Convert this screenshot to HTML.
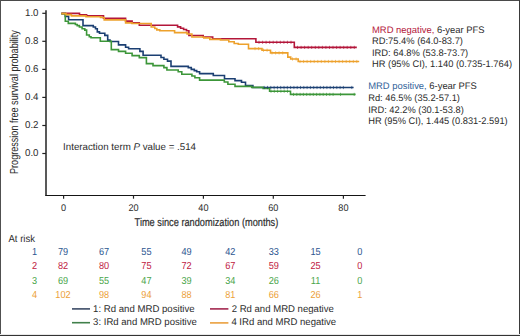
<!DOCTYPE html>
<html><head><meta charset="utf-8"><style>
html,body{margin:0;padding:0;background:#fff;}
body{width:520px;height:336px;overflow:hidden;position:relative;}
svg{position:absolute;left:0;top:0;font-family:"Liberation Sans",sans-serif;font-size:9.5px;}
text{stroke-width:0;text-rendering:geometricPrecision;}
</style></head><body>
<svg width="520" height="336" viewBox="0 0 520 336" fill="#2b2b2b">
<rect x="0" y="0" width="520" height="1" fill="#4a4a4a"/><rect x="0" y="0" width="1" height="336" fill="#505050"/><rect x="0" y="335" width="520" height="1" fill="#333"/><rect x="519" y="0" width="1" height="336" fill="#3a3a3a"/><rect x="0" y="334" width="520" height="1" fill="#e8e8e8"/>
<path d="M46,10.2V195.7" stroke="#222" stroke-width="1.5" fill="none"/><path d="M45.3,195.45H365.6" stroke="#151515" stroke-width="1.15" fill="none"/><path d="M42.3,13.3H46" stroke="#222" stroke-width="1.2"/><text x="25.02" y="16.2" font-size="10.0" textLength="13.48" lengthAdjust="spacingAndGlyphs" stroke="#2b2b2b">1.0</text><path d="M42.3,41.3H46" stroke="#222" stroke-width="1.2"/><text x="25.02" y="44.2" font-size="10.0" textLength="13.48" lengthAdjust="spacingAndGlyphs" stroke="#2b2b2b">0.8</text><path d="M42.3,69.4H46" stroke="#222" stroke-width="1.2"/><text x="25.02" y="72.3" font-size="10.0" textLength="13.48" lengthAdjust="spacingAndGlyphs" stroke="#2b2b2b">0.6</text><path d="M42.3,97.4H46" stroke="#222" stroke-width="1.2"/><text x="25.02" y="100.3" font-size="10.0" textLength="13.48" lengthAdjust="spacingAndGlyphs" stroke="#2b2b2b">0.4</text><path d="M42.3,125.5H46" stroke="#222" stroke-width="1.2"/><text x="25.02" y="128.4" font-size="10.0" textLength="13.48" lengthAdjust="spacingAndGlyphs" stroke="#2b2b2b">0.2</text><path d="M42.3,153.5H46" stroke="#222" stroke-width="1.2"/><text x="25.02" y="156.4" font-size="10.0" textLength="13.48" lengthAdjust="spacingAndGlyphs" stroke="#2b2b2b">0.0</text><path d="M63.6,195.5V198.7" stroke="#222" stroke-width="1.2"/><text x="61.07" y="210.9" font-size="9.7" textLength="5.07" lengthAdjust="spacingAndGlyphs" stroke="#2b2b2b">0</text><path d="M133.5,195.5V198.7" stroke="#222" stroke-width="1.2"/><text x="128.43" y="210.9" font-size="9.7" textLength="10.14" lengthAdjust="spacingAndGlyphs" stroke="#2b2b2b">20</text><path d="M203.4,195.5V198.7" stroke="#222" stroke-width="1.2"/><text x="198.33" y="210.9" font-size="9.7" textLength="10.14" lengthAdjust="spacingAndGlyphs" stroke="#2b2b2b">40</text><path d="M273.3,195.5V198.7" stroke="#222" stroke-width="1.2"/><text x="268.23" y="210.9" font-size="9.7" textLength="10.14" lengthAdjust="spacingAndGlyphs" stroke="#2b2b2b">60</text><path d="M343.4,195.5V198.7" stroke="#222" stroke-width="1.2"/><text x="338.33" y="210.9" font-size="9.7" textLength="10.14" lengthAdjust="spacingAndGlyphs" stroke="#2b2b2b">80</text>
<g transform="translate(18.2,174) rotate(-90)"><text x="0.00" y="0" font-size="11.6" textLength="143.80" lengthAdjust="spacingAndGlyphs" stroke="#2b2b2b">Progression free survival probability</text></g>
<text x="134.60" y="226.4" font-size="11.4" textLength="143.70" lengthAdjust="spacingAndGlyphs" stroke="#2b2b2b" style="stroke-width:0.2px">Time since randomization (months)</text>
<text x="63.10" y="149.5" font-size="9.9" textLength="132.90" lengthAdjust="spacingAndGlyphs" stroke="#2b2b2b">Interaction term <tspan font-style="italic">P</tspan> value = .514</text>
<g fill="none" stroke-width="1.6" stroke-linejoin="miter">
<path d="M61.3,13.6 H65.3 V16.4 H68.6 V19.8 H83 V25.6 H93.3 V27 H95.5 V28.8 H97.3 V31.9 H99.5 V33.3 H104.8 V35.4 H107.7 V40.1 H110 V41.5 H118.5 V44.9 H125.6 V47.3 H128.6 V48.7 H139.9 V51.4 H143.1 V55.3 H161 V57.5 H163.9 V59.3 H167.5 V61.1 H171 V66.4 H188.3 V67.6 H191.3 V69.4 H194.3 V70.6 H196.7 V71.8 H199.6 V73.6 H213.3 V75.5 H224.5 V78.8 H235 V80.6 H241.5 V82.3 H245.5 V85.6 H252.9 V87.5 H353.6" stroke="#1b3f72"/>
<path d="M61.3,13.4 H79.5 V14.7 H86.6 V15.7 H103.5 V18.3 H125.6 V21.1 H132.1 V22.9 H139.3 V25.2 H177.6 V26.9 H180.6 V28.3 H183.6 V29.5 H186.5 V30.7 H188.9 V35.5 H203.2 V37 H212.7 V38.8 H255.9 V42.3 H294.3 V47.4 H356.8" stroke="#b3163a"/>
<path d="M61.3,13.6 H65.3 V21.2 H68.3 V23.4 H75.4 V24.5 H77.2 V25.6 H79.4 V27 H82.1 V28.8 H84.8 V30.1 H86.6 V35 H89.3 V36.8 H91 V37.7 H100.3 V41.3 H111.3 V49.6 H118.5 V51.4 H125.6 V53.2 H132.1 V55.6 H139.3 V57.6 H146.4 V63.6 H153 V65.6 H163.9 V67.6 H166.9 V70 H178.2 V71.8 H181.8 V74.2 H191.9 V76 H194.9 V77.7 H199.6 V80.1 H224.3 V82 H227.9 V84.2 H235 V86.4 H251.7 V87.4 H263.1 V88.5 H269.6 V91.2 H290.5 V94.4 H355.6" stroke="#3c9639"/>
<path d="M61.3,13.6 H66 V14.6 H71.4 V15.9 H86 V16.8 H100.5 V17.5 H104.2 V19.9 H125.6 V22.9 H132 V23.5 H151.2 V27 H154.8 V28.5 H156.8 V29.9 H159.8 V30.8 H174.6 V32.6 H187.1 V34 H191.9 V37 H203.8 V37.9 H209.8 V39.4 H220.5 V40 H228.8 V41.7 H234.2 V43.5 H238.3 V44.3 H248.5 V48.6 H262 V50.2 H270.5 V52.9 H287.8 V57.1 H290.7 V59 H298.2 V61.5 H359.2" stroke="#eda12c"/>
</g>
<path d="M259.0,40.7v3.2 M262.6,40.7v3.2 M266.1,40.7v3.2 M269.7,40.7v3.2 M273.2,40.7v3.2 M276.8,40.7v3.2 M280.3,40.7v3.2 M283.9,40.7v3.2 M287.4,40.7v3.2 M291.0,40.7v3.2 M297.5,45.8v3.2 M301.1,45.8v3.2 M304.6,45.8v3.2 M308.2,45.8v3.2 M311.7,45.8v3.2 M315.3,45.8v3.2 M318.8,45.8v3.2 M322.4,45.8v3.2 M325.9,45.8v3.2 M329.5,45.8v3.2 M333.0,45.8v3.2 M336.6,45.8v3.2 M340.1,45.8v3.2 M343.7,45.8v3.2 M347.2,45.8v3.2 M350.8,45.8v3.2 M354.3,45.8v3.2" stroke="#b3163a" stroke-width="0.65" fill="none"/><path d="M255.0,47.0v3.2 M258.6,47.0v3.2 M263.5,48.6v3.2 M267.1,48.6v3.2 M272.0,51.3v3.2 M275.6,51.3v3.2 M279.1,51.3v3.2 M282.7,51.3v3.2 M292.5,57.4v3.2 M296.1,57.4v3.2 M300.0,59.9v3.2 M303.6,59.9v3.2 M307.1,59.9v3.2 M310.7,59.9v3.2 M314.2,59.9v3.2 M317.8,59.9v3.2 M321.3,59.9v3.2 M324.9,59.9v3.2 M328.4,59.9v3.2 M332.0,59.9v3.2 M335.5,59.9v3.2 M339.1,59.9v3.2 M342.6,59.9v3.2 M346.2,59.9v3.2 M349.7,59.9v3.2 M353.3,59.9v3.2 M356.8,59.9v3.2" stroke="#eda12c" stroke-width="0.65" fill="none"/><path d="M264.2,85.9v3.2 M267.5,85.9v3.2 M270.8,85.9v3.2 M274.1,85.9v3.2 M277.4,85.9v3.2 M280.7,85.9v3.2 M284.0,85.9v3.2 M287.3,85.9v3.2 M290.6,85.9v3.2 M293.9,85.9v3.2 M297.2,85.9v3.2 M300.5,85.9v3.2 M303.8,85.9v3.2 M307.1,85.9v3.2 M310.4,85.9v3.2 M313.7,85.9v3.2 M317.0,85.9v3.2 M320.3,85.9v3.2 M323.6,85.9v3.2 M326.9,85.9v3.2 M330.2,85.9v3.2 M333.5,85.9v3.2 M336.8,85.9v3.2 M340.1,85.9v3.2 M343.4,85.9v3.2 M351.8,85.9v3.2" stroke="#1b3f72" stroke-width="0.65" fill="none"/><path d="M271.0,89.6v3.2 M274.3,89.6v3.2 M277.6,89.6v3.2 M280.9,89.6v3.2 M284.2,89.6v3.2 M287.5,89.6v3.2 M293.5,92.8v3.2 M296.8,92.8v3.2 M300.1,92.8v3.2 M303.4,92.8v3.2 M306.7,92.8v3.2 M310.0,92.8v3.2 M313.3,92.8v3.2 M316.6,92.8v3.2 M319.9,92.8v3.2 M323.2,92.8v3.2 M326.5,92.8v3.2 M329.8,92.8v3.2 M333.1,92.8v3.2 M340.5,92.8v3.2 M354.2,92.8v3.2" stroke="#3c9639" stroke-width="0.65" fill="none"/>
<text x="372.00" y="32.6" font-size="9.5" textLength="112.60" lengthAdjust="spacingAndGlyphs" stroke="#2b2b2b"><tspan fill="#b3163a" stroke="#b3163a">MRD negative,</tspan> 6-year PFS</text><text x="372.00" y="44.3" font-size="9.5" textLength="91.00" lengthAdjust="spacingAndGlyphs" stroke="#2b2b2b">RD:75.4% (64.0-83.7)</text><text x="372.00" y="55.7" font-size="9.5" textLength="96.20" lengthAdjust="spacingAndGlyphs" stroke="#2b2b2b">IRD: 64.8% (53.8-73.7)</text><text x="372.00" y="66.9" font-size="9.5" textLength="140.00" lengthAdjust="spacingAndGlyphs" stroke="#2b2b2b">HR (95% CI), 1.140 (0.735-1.764)</text><text x="368.20" y="89.3" font-size="9.5" textLength="108.70" lengthAdjust="spacingAndGlyphs" stroke="#2b2b2b"><tspan fill="#33639a" stroke="#33639a">MRD positive,</tspan> 6-year PFS</text><text x="368.20" y="100.8" font-size="9.5" textLength="91.80" lengthAdjust="spacingAndGlyphs" stroke="#2b2b2b">Rd: 46.5% (35.2-57.1)</text><text x="368.20" y="112.5" font-size="9.5" textLength="95.60" lengthAdjust="spacingAndGlyphs" stroke="#2b2b2b">IRD: 42.2% (30.1-53.8)</text><text x="368.20" y="123.8" font-size="9.5" textLength="139.50" lengthAdjust="spacingAndGlyphs" stroke="#2b2b2b">HR (95% CI), 1.445 (0.831-2.591)</text>
<text x="8.50" y="241.6" font-size="10.2" textLength="26.48" lengthAdjust="spacingAndGlyphs" stroke="#2b2b2b">At risk</text>
<text x="32.05" y="255.4" font-size="10.2" textLength="5.11" lengthAdjust="spacingAndGlyphs" fill="#2c5690" stroke="#2c5690">1</text><text x="57.90" y="255.4" font-size="10.2" textLength="10.21" lengthAdjust="spacingAndGlyphs" fill="#2c5690" stroke="#2c5690">79</text><text x="98.90" y="255.4" font-size="10.2" textLength="10.21" lengthAdjust="spacingAndGlyphs" fill="#2c5690" stroke="#2c5690">67</text><text x="141.30" y="255.4" font-size="10.2" textLength="10.21" lengthAdjust="spacingAndGlyphs" fill="#2c5690" stroke="#2c5690">55</text><text x="181.50" y="255.4" font-size="10.2" textLength="10.21" lengthAdjust="spacingAndGlyphs" fill="#2c5690" stroke="#2c5690">49</text><text x="225.15" y="255.4" font-size="10.2" textLength="10.21" lengthAdjust="spacingAndGlyphs" fill="#2c5690" stroke="#2c5690">42</text><text x="268.65" y="255.4" font-size="10.2" textLength="10.21" lengthAdjust="spacingAndGlyphs" fill="#2c5690" stroke="#2c5690">33</text><text x="310.50" y="255.4" font-size="10.2" textLength="10.21" lengthAdjust="spacingAndGlyphs" fill="#2c5690" stroke="#2c5690">15</text><text x="357.20" y="255.4" font-size="10.2" textLength="5.11" lengthAdjust="spacingAndGlyphs" fill="#2c5690" stroke="#2c5690">0</text><text x="32.05" y="269.4" font-size="10.2" textLength="5.11" lengthAdjust="spacingAndGlyphs" fill="#c0203f" stroke="#c0203f">2</text><text x="57.90" y="269.4" font-size="10.2" textLength="10.21" lengthAdjust="spacingAndGlyphs" fill="#c0203f" stroke="#c0203f">82</text><text x="98.90" y="269.4" font-size="10.2" textLength="10.21" lengthAdjust="spacingAndGlyphs" fill="#c0203f" stroke="#c0203f">80</text><text x="141.30" y="269.4" font-size="10.2" textLength="10.21" lengthAdjust="spacingAndGlyphs" fill="#c0203f" stroke="#c0203f">75</text><text x="181.50" y="269.4" font-size="10.2" textLength="10.21" lengthAdjust="spacingAndGlyphs" fill="#c0203f" stroke="#c0203f">72</text><text x="225.15" y="269.4" font-size="10.2" textLength="10.21" lengthAdjust="spacingAndGlyphs" fill="#c0203f" stroke="#c0203f">67</text><text x="268.65" y="269.4" font-size="10.2" textLength="10.21" lengthAdjust="spacingAndGlyphs" fill="#c0203f" stroke="#c0203f">59</text><text x="310.50" y="269.4" font-size="10.2" textLength="10.21" lengthAdjust="spacingAndGlyphs" fill="#c0203f" stroke="#c0203f">25</text><text x="357.20" y="269.4" font-size="10.2" textLength="5.11" lengthAdjust="spacingAndGlyphs" fill="#c0203f" stroke="#c0203f">0</text><text x="32.05" y="283.5" font-size="10.2" textLength="5.11" lengthAdjust="spacingAndGlyphs" fill="#4aa54a" stroke="#4aa54a">3</text><text x="57.90" y="283.5" font-size="10.2" textLength="10.21" lengthAdjust="spacingAndGlyphs" fill="#4aa54a" stroke="#4aa54a">69</text><text x="98.90" y="283.5" font-size="10.2" textLength="10.21" lengthAdjust="spacingAndGlyphs" fill="#4aa54a" stroke="#4aa54a">55</text><text x="141.30" y="283.5" font-size="10.2" textLength="10.21" lengthAdjust="spacingAndGlyphs" fill="#4aa54a" stroke="#4aa54a">47</text><text x="181.50" y="283.5" font-size="10.2" textLength="10.21" lengthAdjust="spacingAndGlyphs" fill="#4aa54a" stroke="#4aa54a">39</text><text x="225.15" y="283.5" font-size="10.2" textLength="10.21" lengthAdjust="spacingAndGlyphs" fill="#4aa54a" stroke="#4aa54a">34</text><text x="268.65" y="283.5" font-size="10.2" textLength="10.21" lengthAdjust="spacingAndGlyphs" fill="#4aa54a" stroke="#4aa54a">26</text><text x="310.84" y="283.5" font-size="10.2" textLength="9.53" lengthAdjust="spacingAndGlyphs" fill="#4aa54a" stroke="#4aa54a">11</text><text x="357.20" y="283.5" font-size="10.2" textLength="5.11" lengthAdjust="spacingAndGlyphs" fill="#4aa54a" stroke="#4aa54a">0</text><text x="32.05" y="297.5" font-size="10.2" textLength="5.11" lengthAdjust="spacingAndGlyphs" fill="#eca038" stroke="#eca038">4</text><text x="55.34" y="297.5" font-size="10.2" textLength="15.32" lengthAdjust="spacingAndGlyphs" fill="#eca038" stroke="#eca038">102</text><text x="98.90" y="297.5" font-size="10.2" textLength="10.21" lengthAdjust="spacingAndGlyphs" fill="#eca038" stroke="#eca038">98</text><text x="141.30" y="297.5" font-size="10.2" textLength="10.21" lengthAdjust="spacingAndGlyphs" fill="#eca038" stroke="#eca038">94</text><text x="181.50" y="297.5" font-size="10.2" textLength="10.21" lengthAdjust="spacingAndGlyphs" fill="#eca038" stroke="#eca038">88</text><text x="225.15" y="297.5" font-size="10.2" textLength="10.21" lengthAdjust="spacingAndGlyphs" fill="#eca038" stroke="#eca038">81</text><text x="268.65" y="297.5" font-size="10.2" textLength="10.21" lengthAdjust="spacingAndGlyphs" fill="#eca038" stroke="#eca038">66</text><text x="310.50" y="297.5" font-size="10.2" textLength="10.21" lengthAdjust="spacingAndGlyphs" fill="#eca038" stroke="#eca038">26</text><text x="357.20" y="297.5" font-size="10.2" textLength="5.11" lengthAdjust="spacingAndGlyphs" fill="#eca038" stroke="#eca038">1</text>
<path d="M72,308.9H90" stroke="#3b4b66" stroke-width="1.6"/><path d="M210,308.9H228.4" stroke="#a3284f" stroke-width="1.6"/><path d="M72,322.7H90" stroke="#41804b" stroke-width="1.6"/><path d="M210,322.9H228.4" stroke="#eaa03e" stroke-width="1.6"/><text x="93.10" y="311.8" font-size="9.8" textLength="101.50" lengthAdjust="spacingAndGlyphs" stroke="#2b2b2b">1: Rd and MRD positive</text><text x="231.70" y="311.8" font-size="9.8" textLength="102.10" lengthAdjust="spacingAndGlyphs" stroke="#2b2b2b">2 Rd and MRD negative</text><text x="93.10" y="325.2" font-size="9.8" textLength="103.70" lengthAdjust="spacingAndGlyphs" stroke="#2b2b2b">3: IRd and MRD positive</text><text x="231.40" y="325.4" font-size="9.8" textLength="104.80" lengthAdjust="spacingAndGlyphs" stroke="#2b2b2b">4 IRd and MRD negative</text>
</svg>
</body></html>
